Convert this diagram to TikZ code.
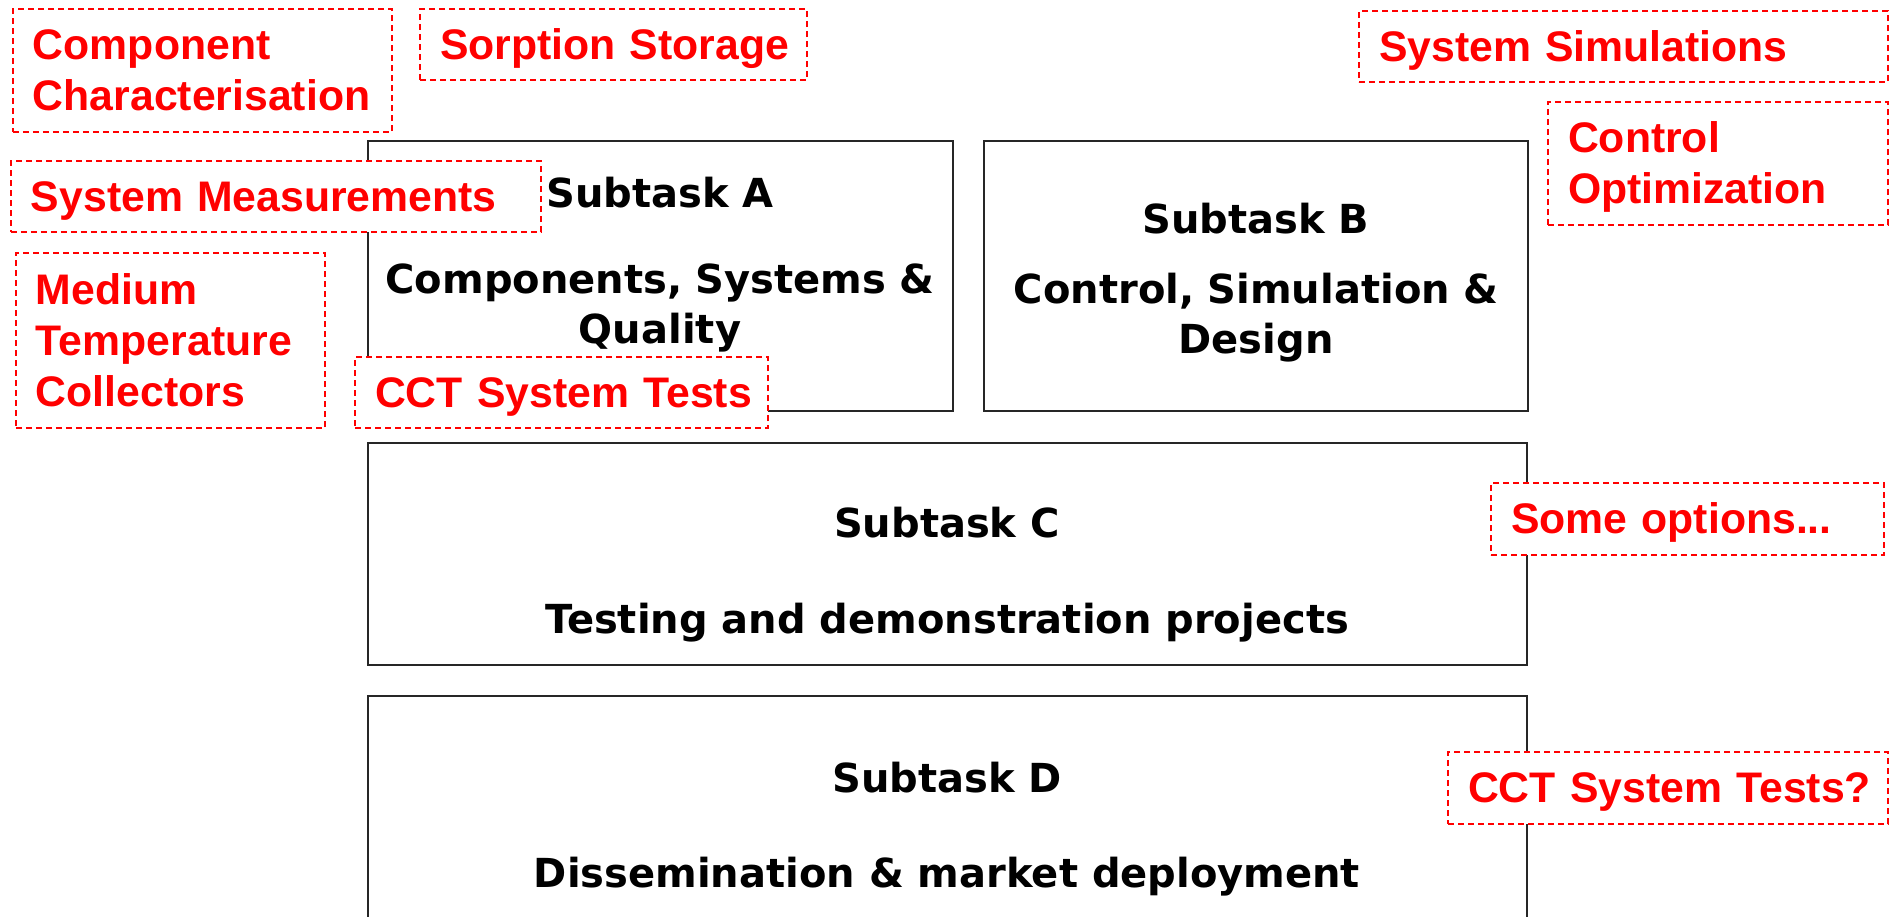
\documentclass[tikz,border=0pt]{standalone}
\usepackage{fontspec}
\newfontfamily\notefont{Liberation Sans}
\newfontfamily\taskfont{DejaVu Sans}
% one line of a note: cap height on top, no depth below
\newcommand\capline[1]{\vphantom{C}\smash{#1}}
\tikzset{
  span/.style n args={4}{
    minimum width={(#3-#1)*0.4pt},
    minimum height={(#4-#2)*0.4pt},
    at={({(#1+#3)/2},{(#2+#4)/2})}},
  taskbox/.style={draw=black!85, line width=0.9pt, fill=white,
    inner sep=0pt, outer sep=0pt},
  tasktext/.style={font=\taskfont\bfseries\fontsize{16pt}{20pt}\selectfont,
    align=center, inner sep=0pt, anchor=base},
  notebox/.style={draw=red, fill=white, line width=0.8pt,
    dash pattern=on 2.4pt off 1.6pt, inner xsep=8pt, inner ysep=0pt,
    align=left, text=red,
    font=\notefont\bfseries\fontsize{17.1pt}{20.4pt}\selectfont},
}
\begin{document}
\begin{tikzpicture}[x=0.4pt, y=-0.4pt]
\useasboundingbox (0,0) rectangle (1892,916);
\clip (0,0) rectangle (1892,916);

% subtask boxes
\node[taskbox, span={368}{141}{953}{411}] (A) {};
\node[taskbox, span={984}{141}{1528}{411}] (B) {};
\node[taskbox, span={368}{443}{1527}{665}] (C) {};
\node[taskbox, span={368}{696}{1527}{950}] (D) {};

\node[tasktext] (A-title) at (660,207) {Subtask A};
\node[tasktext, text width=234pt] (A-body) at (660,293) {Components, Systems \&\\Quality};
\node[tasktext] (B-title) at (1256,233) {Subtask B};
\node[tasktext, text width=218pt] (B-body) at (1256,303) {Control, Simulation \&\\Design};
\node[tasktext] (C-title) at (947,537) {Subtask C};
\node[tasktext] (C-body) at (947,633) {Testing and demonstration projects};
\node[tasktext] (D-title) at (947,792) {Subtask D};
\node[tasktext] (D-body) at (947,887) {Dissemination \& market deployment};

% red notes
\node[notebox, span={13}{9}{392}{132}, text width=135.6pt] (charac)
  {\capline{Component}\\\capline{Characterisation}};
\node[notebox, span={420}{9}{807}{80}, text width=138.8pt] (sorption)
  {\capline{Sorption Storage}};
\node[notebox, span={11}{161}{541}{232}, text width=196pt] (measure)
  {\capline{System Measurements}};
\node[notebox, span={16}{253}{325}{428}, text width=107.6pt] (collectors)
  {\capline{Medium}\\\capline{Temperature}\\\capline{Collectors}};
\node[notebox, span={355}{357}{768}{428}, text width=149.2pt] (cct)
  {\capline{CCT System Tests}};
\node[notebox, span={1359}{11}{1888}{82}, text width=195.6pt] (simul)
  {\capline{System Simulations}};
\node[notebox, span={1548}{102}{1888}{225}, text width=120pt] (control)
  {\capline{Control}\\\capline{Optimization}};
\node[notebox, span={1491}{483}{1884}{555}, text width=141.2pt] (options)
  {\capline{Some options...}};
\node[notebox, span={1448}{752}{1888}{824}, text width=160pt] (cctq)
  {\capline{CCT System Tests?}};
\end{tikzpicture}
\end{document}
